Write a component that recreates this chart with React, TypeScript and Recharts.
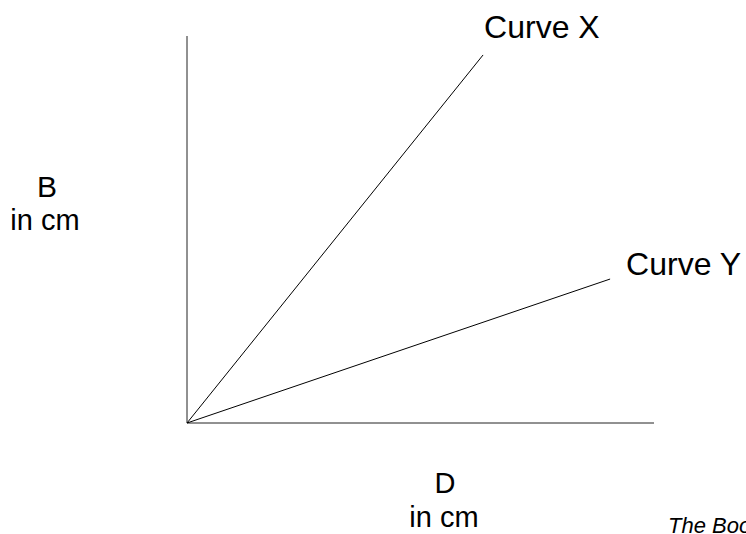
import React from 'react';
import { LineChart, Line, XAxis, YAxis, ReferenceLine, Customized } from 'recharts';

const curveX = [
  { d: 0, b: 0 },
  { d: 63.4, b: 95.1 },
];

const curveY = [
  { d: 0, b: 0 },
  { d: 90.6, b: 37.2 },
];

const curveNames = ['Curve X', 'Curve Y'];

const FONT = '"Liberation Sans", Arial, sans-serif';

const endLabel = (name: string, dx: number, dy: number) => (props: any) => {
  if (props.index !== 1) return null;
  return (
    <text x={props.x + dx} y={props.y + dy} fontSize={32} fontFamily={FONT} fill="#000">
      {name}
    </text>
  );
};

const AxisTitles = () => (
  <g fontFamily={FONT} fill="#000" textAnchor="middle">
    <text x={47} y={197} fontSize={30}>B</text>
    <text x={45} y={230} fontSize={29}>in cm</text>
    <text x={445} y={493} fontSize={29}>D</text>
    <text x={444} y={527} fontSize={29}>in cm</text>
    <text x={668} y={533} fontSize={22} fontStyle="italic" textAnchor="start">The Book</text>
  </g>
);

export default function App() {
  return (
    <div style={{ position: 'absolute', left: 0, top: 0, background: '#fff' }}>
      <LineChart width={746} height={534} margin={{ top: 36, right: 92, bottom: 111, left: 187 }}>
        <XAxis type="number" dataKey="d" domain={[0, 100]} hide />
        <YAxis type="number" dataKey="b" domain={[0, 100]} hide />
        <ReferenceLine x={0} stroke="#222" strokeWidth={1} />
        <ReferenceLine y={0} stroke="#222" strokeWidth={1} />
        <Line
          data={curveX}
          dataKey="b"
          stroke="#000"
          strokeWidth={1}
          dot={false}
          isAnimationActive={false}
          label={endLabel(curveNames[0], 1, -17)}
        />
        <Line
          data={curveY}
          dataKey="b"
          stroke="#000"
          strokeWidth={1}
          dot={false}
          isAnimationActive={false}
          label={endLabel(curveNames[1], 16, -4)}
        />
        <Customized component={AxisTitles} />
      </LineChart>
    </div>
  );
}
